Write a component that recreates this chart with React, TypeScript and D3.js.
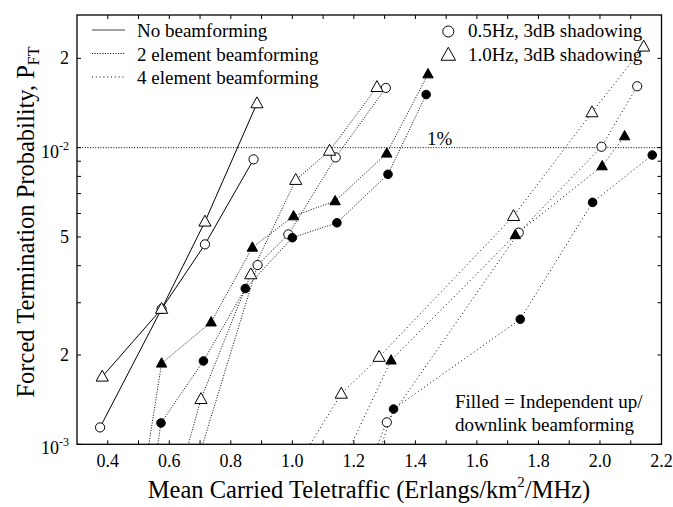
import React from "react";
import * as d3 from "d3";

// ---- Data ----
// No beamforming (solid)
const nb05X = [0.375, 0.575, 0.716, 0.874];
const nb05Y = [1.14e-3, 2.86e-3, 4.72e-3, 9.13e-3];
const nb10X = [0.382, 0.575, 0.716, 0.885];
const nb10Y = [1.69e-3, 2.86e-3, 5.63e-3, 1.41e-2];

// 2 element beamforming
const e2o05X = [0.68, 0.887, 0.987, 1.141, 1.304];
const e2o05Y = [8e-4, 4.02e-3, 5.1e-3, 9.27e-3, 1.59e-2];
const e2o10X = [0.62, 0.703, 0.865, 1.011, 1.121, 1.275];
const e2o10Y = [7e-4, 1.42e-3, 3.74e-3, 7.78e-3, 9.76e-3, 1.6e-2];
const e2f05X = [0.54, 0.573, 0.711, 0.847, 1.0, 1.145, 1.311, 1.435];
const e2f05Y = [7e-4, 1.18e-3, 1.91e-3, 3.35e-3, 4.97e-3, 5.58e-3, 8.13e-3, 1.51e-2];
const e2f10X = [0.51, 0.575, 0.736, 0.87, 1.004, 1.139, 1.307, 1.441];
const e2f10Y = [7e-4, 1.875e-3, 2.58e-3, 4.61e-3, 5.88e-3, 6.61e-3, 9.57e-3, 1.77e-2];

// 4 element beamforming
const e4o05X = [1.25, 1.307, 1.736, 2.005, 2.121];
const e4o05Y = [8.5e-4, 1.186e-3, 5.17e-3, 1.007e-2, 1.61e-2];
const e4o10X = [1.0, 1.159, 1.282, 1.719, 1.974, 2.142];
const e4o10Y = [8e-4, 1.48e-3, 1.97e-3, 5.88e-3, 1.315e-2, 2.19e-2];
const e4f05X = [1.27, 1.329, 1.741, 1.976, 2.17];
const e4f05Y = [8.6e-4, 1.315e-3, 2.64e-3, 6.54e-3, 9.44e-3];
const e4f10X = [1.16, 1.321, 1.725, 2.007, 2.08];
const e4f10Y = [8.5e-4, 1.92e-3, 5.08e-3, 8.67e-3, 1.094e-2];

const xTickLabels = [0.4, 0.6, 0.8, 1.0, 1.2, 1.4, 1.6, 1.8, 2.0, 2.2];
const xMinorTicks = [0.4, 0.5, 0.6, 0.7, 0.8, 0.9, 1.0, 1.1, 1.2, 1.3, 1.4, 1.5, 1.6, 1.7, 1.8, 1.9, 2.0, 2.1];
const yTicks = [1e-3, 2e-3, 3e-3, 4e-3, 5e-3, 6e-3, 7e-3, 8e-3, 9e-3, 1e-2, 2e-2];
const yLabels = [
  { v: 1e-3, base: "10", sup: "-3" },
  { v: 2e-3, base: "2", sup: "" },
  { v: 5e-3, base: "5", sup: "" },
  { v: 1e-2, base: "10", sup: "-2" },
  { v: 2e-2, base: "2", sup: "" },
];
const onePercent = 1e-2;

const FONT = "Liberation Serif, Times New Roman, DejaVu Serif, serif";

type Series = { xs: number[]; ys: number[]; marker: "circle" | "triangle"; filled: boolean; style: "solid" | "e2" | "e4" };

const series: Series[] = [
  { xs: nb05X, ys: nb05Y, marker: "circle", filled: false, style: "solid" },
  { xs: nb10X, ys: nb10Y, marker: "triangle", filled: false, style: "solid" },
  { xs: e2o05X, ys: e2o05Y, marker: "circle", filled: false, style: "e2" },
  { xs: e2o10X, ys: e2o10Y, marker: "triangle", filled: false, style: "e2" },
  { xs: e2f05X, ys: e2f05Y, marker: "circle", filled: true, style: "e2" },
  { xs: e2f10X, ys: e2f10Y, marker: "triangle", filled: true, style: "e2" },
  { xs: e4o05X, ys: e4o05Y, marker: "circle", filled: false, style: "e4" },
  { xs: e4o10X, ys: e4o10Y, marker: "triangle", filled: false, style: "e4" },
  { xs: e4f05X, ys: e4f05Y, marker: "circle", filled: true, style: "e4" },
  { xs: e4f10X, ys: e4f10Y, marker: "triangle", filled: true, style: "e4" },
];

const dash = { solid: undefined, e2: "1,1.6", e4: "1,2.8" } as const;

const L = 77, R = 661.5, T = 15, B = 444.3;

function tri(s: number) {
  return `M0,${-s * 0.62}L${s * 0.58},${s * 0.42}L${-s * 0.58},${s * 0.42}Z`;
}

const txt = { fontFamily: FONT } as React.CSSProperties;

export default function App() {
  const x = d3.scaleLinear().domain([0.3, 2.2]).range([L, R]);
  const y = d3.scaleLog().domain([1e-3, 2.8e-2]).range([B, T]);
  const line = d3.line<[number, number]>().x((d) => x(d[0])).y((d) => y(d[1]));
  const tk = 4;

  return (
    <svg width={673} height={507} style={{ position: "absolute", left: 0, top: 0, background: "#fff", fontFamily: FONT }}>
      <defs>
        <clipPath id="plot">
          <rect x={L} y={T} width={R - L} height={B - T} />
        </clipPath>
      </defs>
      {/* 1% line */}
      <line x1={L} x2={R} y1={y(onePercent)} y2={y(onePercent)} stroke="#000" strokeWidth={1} strokeDasharray="1,1.6" />
      <text x={427} y={145} fontSize={19} style={txt}>1%</text>

      {/* series lines */}
      <g clipPath="url(#plot)">
        {series.map((s, i) => (
          <path
            key={i}
            d={line(s.xs.map((v, j) => [v, s.ys[j]] as [number, number])) || ""}
            fill="none"
            stroke="#000"
            strokeWidth={1}
            strokeDasharray={dash[s.style]}
          />
        ))}
      </g>
      {/* markers */}
      <g clipPath="url(#plot)">
        {series.map((s, i) =>
          s.xs.map((v, j) => {
            const cx = x(v), cy = y(s.ys[j]);
            if (s.marker === "circle")
              return (
                <circle key={`${i}-${j}`} cx={cx} cy={cy} r={s.filled ? 4.3 : 4.6} fill={s.filled ? "#000" : "#fff"} stroke="#000" strokeWidth={1} />
              );
            return (
              <path key={`${i}-${j}`} d={tri(s.filled ? 9 : 10.5)} transform={`translate(${cx},${cy})`} fill={s.filled ? "#000" : "#fff"} stroke="#000" strokeWidth={1} />
            );
          })
        )}
      </g>

      {/* frame */}
      <rect x={L} y={T} width={R - L} height={B - T} fill="none" stroke="#000" strokeWidth={1.3} />

      {/* x ticks */}
      {xMinorTicks.map((v) => (
        <g key={`xt${v}`}>
          <line x1={x(v)} x2={x(v)} y1={B} y2={B - tk} stroke="#000" />
          <line x1={x(v)} x2={x(v)} y1={T} y2={T + tk} stroke="#000" />
        </g>
      ))}
      {xTickLabels.map((v) => (
        <text key={`xl${v}`} x={x(v)} y={467} fontSize={18} textAnchor="middle" style={txt}>
          {v.toFixed(1)}
        </text>
      ))}

      {/* y ticks */}
      {yTicks.map((v) => (
        <g key={`yt${v}`}>
          <line x1={L} x2={L + tk} y1={y(v)} y2={y(v)} stroke="#000" />
          <line x1={R} x2={R - tk} y1={y(v)} y2={y(v)} stroke="#000" />
        </g>
      ))}
      {yLabels.map((l) =>
        l.sup ? (
          <text key={`yl${l.v}`} x={69} y={y(l.v) + 10} fontSize={18} textAnchor="end" style={txt}>
            {l.base}
            <tspan fontSize={12} dy={-8}>{l.sup}</tspan>
          </text>
        ) : (
          <text key={`yl${l.v}`} x={69} y={y(l.v) + 6} fontSize={18} textAnchor="end" style={txt}>
            {l.base}
          </text>
        )
      )}

      {/* axis titles */}
      <text x={369} y={498} fontSize={24.5} textAnchor="middle" style={txt}>
        Mean Carried Teletraffic (Erlangs/km<tspan fontSize={15} dy={-11}>2</tspan>
        <tspan dy={11}>/MHz)</tspan>
      </text>
      <text transform="translate(34,222) rotate(-90)" fontSize={24.5} textAnchor="middle" style={txt}>
        Forced Termination Probability, P<tspan fontSize={16} dy={5}>FT</tspan>
      </text>

      {/* legend left */}
      <line x1={92} x2={125} y1={30} y2={30} stroke="#444" strokeWidth={1.2} />
      <line x1={92} x2={125} y1={53.5} y2={53.5} stroke="#000" strokeDasharray={dash.e2} />
      <line x1={92} x2={125} y1={77} y2={77} stroke="#000" strokeDasharray={dash.e4} />
      <text x={137} y={37} fontSize={19} style={txt}>No beamforming</text>
      <text x={137} y={60.5} fontSize={19} style={txt}>2 element beamforming</text>
      <text x={137} y={84} fontSize={19} style={txt}>4 element beamforming</text>

      {/* legend right */}
      <circle cx={448.3} cy={31.5} r={5.5} fill="#fff" stroke="#000" />
      <path d={tri(12.5)} transform="translate(448.3,55)" fill="#fff" stroke="#000" />
      <text x={468} y={37} fontSize={19} style={txt}>0.5Hz, 3dB shadowing</text>
      <text x={468} y={60.5} fontSize={19} style={txt}>1.0Hz, 3dB shadowing</text>

      {/* note */}
      <text x={455} y={408} fontSize={19} style={txt}>Filled = Independent up/</text>
      <text x={455} y={431} fontSize={19} style={txt}>downlink beamforming</text>
    </svg>
  );
}
